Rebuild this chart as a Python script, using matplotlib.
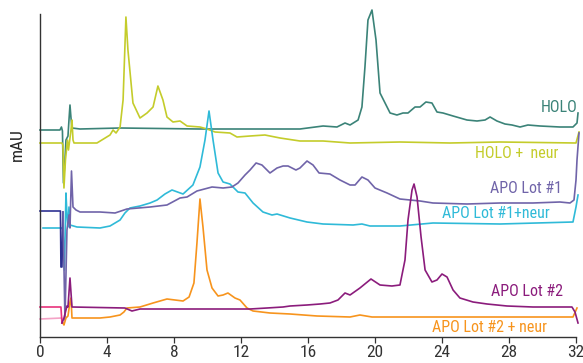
import matplotlib
matplotlib.use("Agg")
import matplotlib.pyplot as plt
from matplotlib import font_manager
import os

# ---------------- data (time in min, absorbance in mAU, arbitrary offsets) ----------------
holo_t = [0, 1.19, 1.28, 1.34, 1.40, 1.49, 1.55, 1.67, 1.73, 1.79, 1.85, 1.91, 2.39, 4.78, 9.55,
          12.54, 15.52, 16.90, 17.73, 18.21, 18.51, 18.99, 19.22, 19.40, 19.58, 19.82, 20.06, 20.30,
          20.60, 20.90, 21.31, 21.67, 21.97, 22.39, 22.69, 23.04, 23.40, 23.70, 24.06, 24.66, 25.49,
          26.09, 26.57, 26.87, 27.28, 27.76, 28.18, 28.66, 29.13, 29.85, 31.04, 31.82, 32.06, 32.12]
holo_y = [207, 207, 210, 206, 154, 177, 197, 201, 217, 232, 219, 209, 208, 209, 208,
          208, 208, 211, 210, 214, 212, 217, 230, 270, 317, 327, 297, 244,
          234, 224, 222, 224, 224, 230, 230, 235, 234, 225, 224, 221, 217,
          216, 217, 220, 216, 213, 212, 210, 212, 211, 210, 210, 214, 224]

holo_neur_t = [0, 1.31, 1.37, 1.43, 1.52, 1.58, 1.64, 1.70, 1.76, 1.85, 1.91, 1.97, 2.03, 3.40,
               4.18, 4.36, 4.54, 4.78, 4.96, 5.13, 5.25, 5.55, 5.97, 6.39, 6.75, 7.04, 7.34, 7.58,
               7.94, 8.36, 8.78, 9.55, 9.97, 10.45, 11.34, 11.76, 12.54, 13.43, 14.33, 15.52, 16.90,
               18.51, 21.49, 24.48, 27.46, 32.0, 32.18]
holo_neur_y = [194, 194, 192, 149, 177, 187, 197, 187, 195, 207, 217, 197, 194, 194,
               202, 207, 204, 210, 237, 320, 287, 234, 219, 224, 230, 251, 237, 220,
               215, 216, 211, 210, 208, 205, 204, 200, 201, 202, 199, 196, 196,
               194, 195, 194, 195, 194, 205]

apo1_pre_t = [0, 1.22, 1.25, 1.31, 1.37]
apo1_pre_y = [126, 126, 70, 70, 125]
apo1_t = [1.37, 1.49, 1.61, 1.73, 1.79, 1.88, 1.97, 2.15, 2.39, 3.58, 4.48, 5.19, 6.57, 7.58,
          8.36, 8.78, 9.37, 10.27, 10.93, 11.46, 11.82, 12.24, 12.54, 12.90, 13.25, 13.73, 14.15,
          14.51, 14.81, 15.28, 15.52, 15.94, 16.30, 16.66, 17.31, 17.91, 18.51, 18.81, 19.22, 19.58,
          20.0, 20.72, 21.49, 22.69, 23.46, 25.49, 27.46, 29.43, 31.04, 31.64, 31.88, 32.0, 32.06, 32.18]
apo1_y = [125, 17, 107, 122, 109, 166, 130, 127, 125, 125, 124, 128, 130, 132,
          139, 140, 146, 150, 149, 150, 154, 162, 167, 174, 172, 164, 169,
          171, 171, 167, 169, 176, 172, 164, 163, 157, 152, 152, 160, 157,
          149, 144, 138, 136, 134, 133, 134, 134, 135, 134, 137, 157, 177, 204]

apo1_neur_t = [0.18, 1.31, 1.37, 1.46, 1.55, 1.61, 1.67, 1.73, 1.79, 2.21, 3.58, 4.18, 4.78, 5.07,
               5.37, 5.97, 6.57, 6.99, 7.46, 7.88, 8.54, 9.13, 9.55, 9.85, 10.09, 10.33, 10.63, 10.93,
               11.34, 11.82, 12.24, 12.72, 13.31, 13.85, 14.15, 14.93, 15.94, 16.90, 18.69, 19.22,
               19.70, 21.49, 23.46, 27.46, 31.82, 32.0, 32.12]
apo1_neur_y = [109, 109, 107, 67, 144, 122, 110, 130, 112, 110, 109, 111, 117, 124,
               129, 131, 134, 137, 143, 147, 143, 152, 170, 197, 226, 197, 164, 155,
               153, 145, 144, 134, 125, 122, 123, 119, 115, 113, 112, 113,
               111, 111, 114, 113, 115, 130, 142]

apo2_pre_t = [0, 1.25, 1.31]
apo2_pre_y = [30, 30, 14]
apo2_t = [1.31, 1.43, 1.55, 1.61, 1.67, 1.79, 1.91, 5.07, 5.49, 5.97, 12.54, 13.55, 14.51, 14.93,
          15.94, 16.72, 17.31, 17.79, 18.21, 18.51, 19.10, 19.76, 20.30, 21.01, 21.49, 21.79, 21.97,
          22.21, 22.33, 22.51, 22.75, 22.99, 23.40, 23.70, 24.0, 24.30, 24.66, 25.07, 25.85, 26.69,
          27.88, 29.43, 31.76, 31.94, 32.12]
apo2_y = [14, 19, 27, 31, 30, 59, 30, 29, 26, 28, 28, 29, 30, 31,
          32, 33, 34, 37, 44, 42, 49, 58, 52, 51, 52, 77, 117,
          147, 153, 140, 100, 67, 55, 57, 63, 60, 47, 39, 35, 33,
          31, 30, 30, 25, 14]

apo2_neur_pre_t = [0, 1.31, 1.37]
apo2_neur_pre_y = [18, 19, 14]
apo2_neur_t = [1.37, 1.43, 1.55, 1.67, 1.79, 1.85, 1.91, 3.58, 4.18, 4.78, 5.01, 5.19, 5.97, 6.75,
               7.58, 8.54, 8.90, 9.19, 9.37, 9.55, 9.73, 9.97, 10.27, 10.63, 10.93, 11.22, 11.64,
               11.94, 12.36, 12.72, 13.73, 14.93, 16.54, 18.51, 19.10, 19.82, 21.49, 31.82, 32.06]
apo2_neur_y = [14, 12, 19, 21, 35, 39, 19, 19, 20, 22, 25, 29, 30, 34,
               38, 36, 40, 54, 94, 138, 110, 67, 49, 41, 42, 44, 39,
               37, 29, 26, 24, 23, 21, 20, 22, 20, 20, 20, 29]

x_ticks = [0, 4, 8, 12, 16, 20, 24, 28, 32]
labels = ["HOLO", "HOLO +  neur", "APO Lot #1", "APO Lot #1+neur", "APO Lot #2", "APO Lot #2 + neur"]

# ---------------- styling ----------------
c_holo = "#3b8378"
c_holo_n = "#c4cc2b"
c_apo1 = "#7064a9"
c_apo1_pre = "#2e3192"
c_apo1_n = "#2fbad8"
c_apo2 = "#8b1c7c"
c_apo2_pre = "#e8327c"
c_apo2_n = "#f7941d"
c_apo2_n_pre = "#f4a3c6"

# find a condensed font file
cond_file = None
prefs = ["LiberationSansNarrow-Regular", "RobotoCondensed-Regular", "Roboto_Condensed-Regular",
         "DejaVuSansCondensed.ttf", "OpenSans_Condensed-Regular", "OpenSansCondensed"]
files = [f.fname for f in font_manager.fontManager.ttflist]
for p in prefs:
    hits = [f for f in files if p in os.path.basename(f)]
    if hits:
        cond_file = hits[0]
        break
if cond_file:
    fp = font_manager.FontProperties(fname=cond_file)
else:
    fp = font_manager.FontProperties(family="DejaVu Sans", stretch="condensed")

fig = plt.figure(figsize=(5.83, 3.63), dpi=100)
ax = fig.add_axes([40/583, 1-337/363, 536/583, 329/363])
ax.set_xlim(0, 32)
ax.set_ylim(0, 329)

lw = 1.2
kw = dict(lw=lw, clip_on=False, solid_joinstyle='round')
ax.plot(holo_t, holo_y, color=c_holo, **kw)
ax.plot(holo_neur_t, holo_neur_y, color=c_holo_n, **kw)
ax.plot(apo1_neur_t, apo1_neur_y, color=c_apo1_n, **kw)
ax.plot(apo1_pre_t, apo1_pre_y, color=c_apo1_pre, **kw)
ax.plot(apo1_t, apo1_y, color=c_apo1, **kw)
ax.plot(apo2_neur_pre_t, apo2_neur_pre_y, color=c_apo2_n_pre, **kw)
ax.plot(apo2_neur_t, apo2_neur_y, color=c_apo2_n, **kw)
ax.plot(apo2_pre_t, apo2_pre_y, color=c_apo2_pre, **kw)
ax.plot(apo2_t, apo2_y, color=c_apo2, **kw)

fs = 11.5
def lab(x, y, s, c):
    t = ax.text(x, y, s, color=c, ha='right', va='center', fontproperties=fp)
    t.set_fontsize(fs)

lab(32.06, 230, labels[0], c_holo)
lab(30.93, 184, labels[1], c_holo_n)
lab(31.16, 149, labels[2], c_apo1)
lab(30.45, 124, labels[3], c_apo1_n)
lab(31.22, 45, labels[4], c_apo2)
lab(30.27, 10, labels[5], c_apo2_n)

for s in ['top', 'right']:
    ax.spines[s].set_visible(False)
for s in ['left', 'bottom']:
    ax.spines[s].set_color('#333333')
    ax.spines[s].set_linewidth(1.0)
ax.spines['left'].set_bounds(0, 323)
ax.set_yticks([])
ax.set_xticks(x_ticks)
ax.set_xticklabels([str(v) for v in x_ticks], color='#333333')
for tl in ax.get_xticklabels():
    tl.set_fontproperties(fp)
    tl.set_fontsize(12.5)
ax.tick_params(axis='x', direction='out', length=4, width=0.9, color='#333333', pad=2)

yl = fig.text(17/583, 1-145/363, "mAU", rotation=90, ha='center', va='center', color='#222222',
              fontproperties=fp)
yl.set_fontsize(12.5)

fig.savefig("out.png", dpi=100)
